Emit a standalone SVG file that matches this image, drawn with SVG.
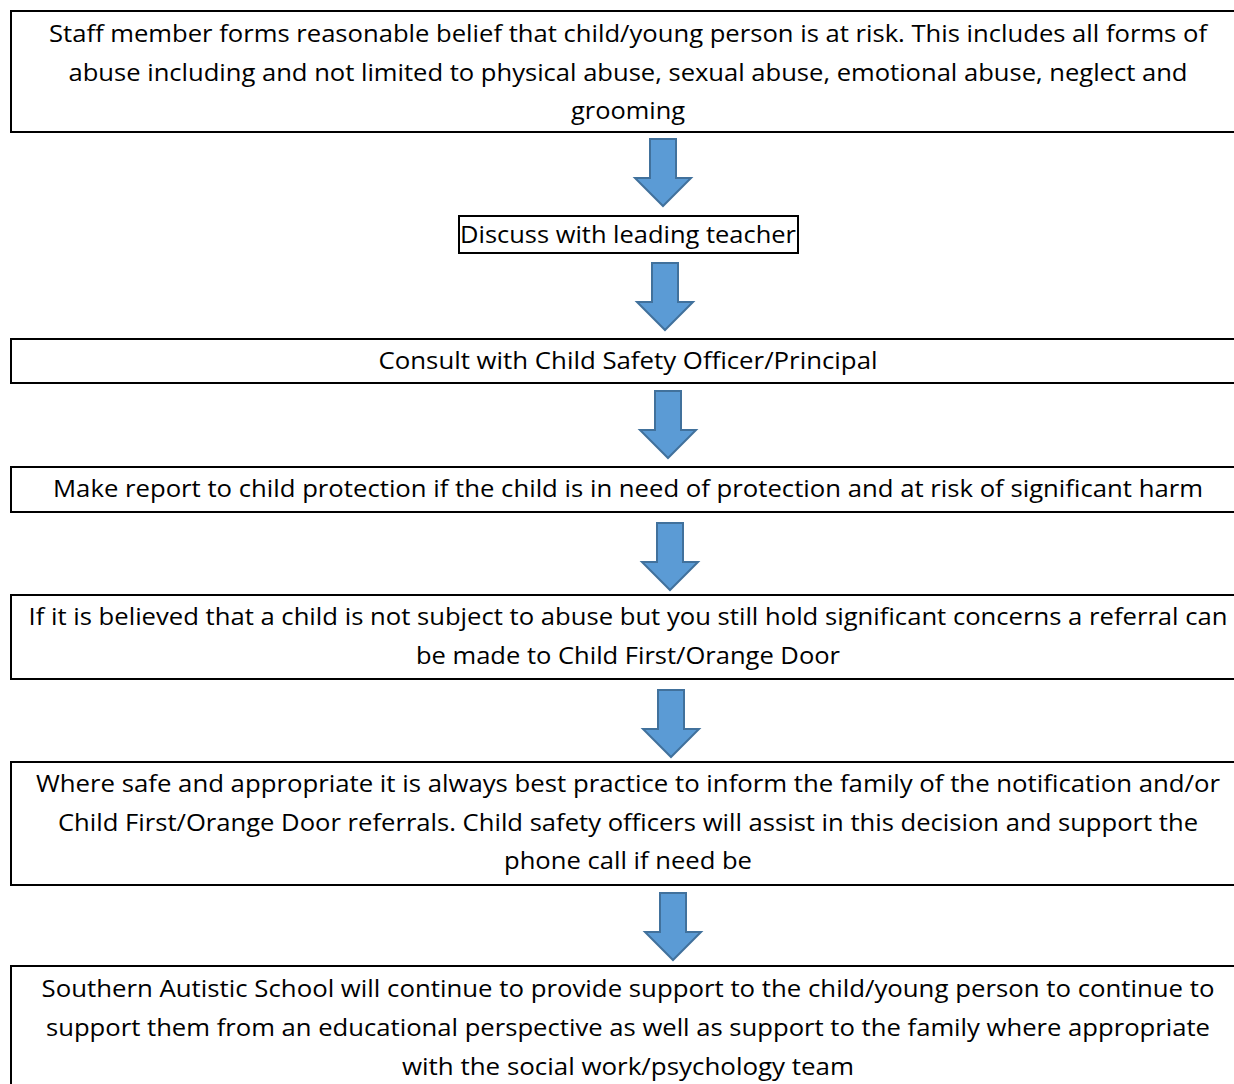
<svg xmlns="http://www.w3.org/2000/svg" xmlns:xlink="http://www.w3.org/1999/xlink" width="1234" height="1084" viewBox="0 0 1234 1084">
<style>
.box{fill:#fff;stroke:#000;stroke-width:2}
.t{font-family:"Open Sans","Noto Sans","Liberation Sans",sans-serif;font-size:24px;fill:#000;text-anchor:middle}
.arr{fill:#5b9bd5;stroke:#41719c;stroke-width:2;stroke-linejoin:miter}
</style>
<defs>
<path id="down" class="arr" d="M-13,0 H13 V39 H28 L0,67 L-28,39 H-13 Z"/>
</defs>
<rect width="1234" height="1084" fill="#fff"/>
<g id="connectors">
<use xlink:href="#down" href="#down" x="663" y="139"/>
<use xlink:href="#down" href="#down" x="665" y="263"/>
<use xlink:href="#down" href="#down" x="668" y="391"/>
<use xlink:href="#down" href="#down" x="670" y="523"/>
<use xlink:href="#down" href="#down" x="671" y="690"/>
<use xlink:href="#down" href="#down" x="673" y="893"/>
</g>
<g id="n1">
<rect class="box" x="11" y="11" width="1240" height="121"/>
<text class="t" x="628" y="42" textLength="1158" lengthAdjust="spacingAndGlyphs">Staff member forms reasonable belief that child/young person is at risk. This includes all forms of</text>
<text class="t" x="628" y="81" textLength="1119" lengthAdjust="spacingAndGlyphs">abuse including and not limited to physical abuse, sexual abuse, emotional abuse, neglect and</text>
<text class="t" x="628" y="119" textLength="114" lengthAdjust="spacingAndGlyphs">grooming</text>
</g>
<g id="n2">
<rect class="box" x="459" y="216" width="339" height="37"/>
<text class="t" x="628" y="243" textLength="336" lengthAdjust="spacingAndGlyphs">Discuss with leading teacher</text>
</g>
<g id="n3">
<rect class="box" x="11" y="339" width="1240" height="44"/>
<text class="t" x="628" y="369" textLength="499" lengthAdjust="spacingAndGlyphs">Consult with Child Safety Officer/Principal</text>
</g>
<g id="n4">
<rect class="box" x="11" y="467" width="1240" height="45"/>
<text class="t" x="628" y="497" textLength="1150" lengthAdjust="spacingAndGlyphs">Make report to child protection if the child is in need of protection and at risk of significant harm</text>
</g>
<g id="n5">
<rect class="box" x="11" y="595" width="1240" height="84"/>
<text class="t" x="628" y="625" textLength="1199" lengthAdjust="spacingAndGlyphs">If it is believed that a child is not subject to abuse but you still hold significant concerns a referral can</text>
<text class="t" x="628" y="664" textLength="424" lengthAdjust="spacingAndGlyphs">be made to Child First/Orange Door</text>
</g>
<g id="n6">
<rect class="box" x="11" y="762" width="1240" height="123"/>
<text class="t" x="628" y="792" textLength="1184" lengthAdjust="spacingAndGlyphs">Where safe and appropriate it is always best practice to inform the family of the notification and/or</text>
<text class="t" x="628" y="831" textLength="1140" lengthAdjust="spacingAndGlyphs">Child First/Orange Door referrals. Child safety officers will assist in this decision and support the</text>
<text class="t" x="628" y="869" textLength="248" lengthAdjust="spacingAndGlyphs">phone call if need be</text>
</g>
<g id="n7">
<rect class="box" x="11" y="966" width="1240" height="130"/>
<text class="t" x="628" y="997" textLength="1173" lengthAdjust="spacingAndGlyphs">Southern Autistic School will continue to provide support to the child/young person to continue to</text>
<text class="t" x="628" y="1036" textLength="1164" lengthAdjust="spacingAndGlyphs">support them from an educational perspective as well as support to the family where appropriate</text>
<text class="t" x="628" y="1075" textLength="452" lengthAdjust="spacingAndGlyphs">with the social work/psychology team</text>
</g>
</svg>
